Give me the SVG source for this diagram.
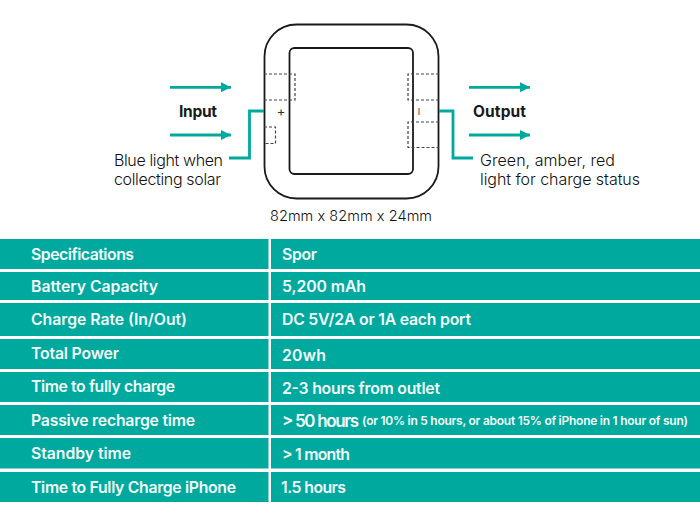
<svg xmlns="http://www.w3.org/2000/svg" width="700" height="525" viewBox="0 0 700 525">
<style>
text{font-family:"Inter","Lato","Liberation Sans",sans-serif}
.c{fill:#00a99d}
.t{font-size:15.800px;font-weight:600;fill:#f2fbfa}
.s{font-size:12px;font-weight:600;fill:#f2fbfa}
.l{font-size:16px;font-weight:300;fill:#111}
.b{font-size:15.500px;font-weight:700;fill:#1a1a1a}
.d{fill:none;stroke:#444;stroke-width:1.200;stroke-dasharray:3 2}
.f{fill:none;stroke:#1a1a1a;stroke-width:1.800}
.w{fill:none;stroke:#00a99d;stroke-width:2.800}
</style>
<defs><marker id="a" markerUnits="userSpaceOnUse" markerWidth="10" markerHeight="10" refX="10" refY="5" orient="auto"><path d="M0 0L10 5L0 10Z" fill="#00a99d"/></marker></defs>
<rect width="700" height="525" fill="#fff"/>
<g id="device">
<rect class="f" x="264.500" y="24.500" width="174" height="174" rx="32"/>
<rect class="f" x="289.500" y="48" width="123.500" height="126" rx="5"/>
<path class="d" d="M264 74H295V100H264M264 127H275.500V143.500H264M439 74H408V100H439M439 122H408V147.500H439"/>
<text x="281" y="115.500" font-size="13" text-anchor="middle" fill="#333">+</text>
<text x="419" y="114.500" font-size="9" text-anchor="middle" fill="#333">I</text>
</g>
<g id="connectors">
<path class="w" marker-end="url(#a)" d="M170 87.300H231"/>
<path class="w" marker-end="url(#a)" d="M170 135H231"/>
<path class="w" marker-end="url(#a)" d="M469 87.300H530"/>
<path class="w" marker-end="url(#a)" d="M469 135H530"/>
<path class="w" d="M264 111H249.500V158H229"/>
<path class="w" d="M439 111H453V158H473"/>
</g>
<g id="labels">
<text class="b" x="179" y="116.500" textLength="38">Input</text>
<text class="b" x="473" y="116.500" textLength="53">Output</text>
<text class="l" x="114" y="166" textLength="109">Blue light when</text>
<text class="l" x="114" y="185" textLength="107">collecting solar</text>
<text class="l" x="480" y="166" textLength="135">Green, amber, red</text>
<text class="l" x="480" y="185" textLength="160">light for charge status</text>
<text class="l" x="270" y="221" style="font-size:14.500px" textLength="162">82mm x 82mm x 24mm</text>
</g>
<g id="table">
<rect class="c" x="0" y="239" width="268.500" height="30"/><rect class="c" x="271" y="239" width="429" height="30"/>
<rect class="c" x="0" y="272" width="268.500" height="28"/><rect class="c" x="271" y="272" width="429" height="28"/>
<rect class="c" x="0" y="303" width="268.500" height="33"/><rect class="c" x="271" y="303" width="429" height="33"/>
<rect class="c" x="0" y="339" width="268.500" height="30"/><rect class="c" x="271" y="339" width="429" height="30"/>
<rect class="c" x="0" y="372" width="268.500" height="30"/><rect class="c" x="271" y="372" width="429" height="30"/>
<rect class="c" x="0" y="405" width="268.500" height="30"/><rect class="c" x="271" y="405" width="429" height="30"/>
<rect class="c" x="0" y="438" width="268.500" height="30.500"/><rect class="c" x="271" y="438" width="429" height="30.500"/>
<rect class="c" x="0" y="472" width="268.500" height="30"/><rect class="c" x="271" y="472" width="429" height="30"/>
<text class="t" x="31" y="259.500" textLength="103">Specifications</text>
<text class="t" x="31" y="291.500" textLength="127">Battery Capacity</text>
<text class="t" x="31" y="324.500" textLength="156">Charge Rate (In/Out)</text>
<text class="t" x="31" y="358.500" textLength="88">Total Power</text>
<text class="t" x="31" y="391.500" textLength="144">Time to fully charge</text>
<text class="t" x="31" y="425.500" textLength="164">Passive recharge time</text>
<text class="t" x="31" y="458.500" textLength="100">Standby time</text>
<text class="t" x="31" y="492.500" textLength="205">Time to Fully Charge iPhone</text>
<text class="t" x="282" y="259.500" textLength="35">Spor</text>
<text class="t" x="282" y="291.500" textLength="84">5,200 mAh</text>
<text class="t" x="282" y="324.500" textLength="189">DC 5V/2A or 1A each port</text>
<text class="t" x="282" y="360.500" textLength="44">20wh</text>
<text class="t" x="282" y="393.500" textLength="158">2-3 hours from outlet</text>
<text class="t" x="282" y="426.500" style="font-size:17px" textLength="77">&gt; 50 hours</text>
<text class="s" x="362" y="425" textLength="326">(or 10% in 5 hours, or about 15% of iPhone in 1 hour of sun)</text>
<text class="t" x="282" y="459.500" textLength="68">&gt; 1 month</text>
<text class="t" x="281" y="492.500" textLength="65">1.5 hours</text>
</g>
</svg>
